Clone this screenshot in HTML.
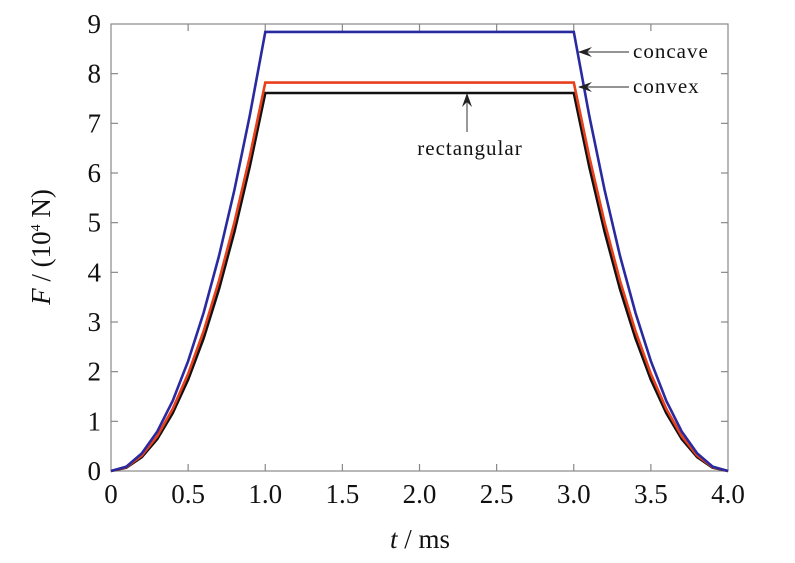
<!DOCTYPE html>
<html><head><style>
html,body{margin:0;padding:0;background:#fff;}
svg text{font-family:"Liberation Serif",serif;fill:#111;}
</style></head><body>
<svg id="s" width="795" height="558" viewBox="0 0 795 558" xmlns="http://www.w3.org/2000/svg">
<defs><marker id="ah" markerWidth="14" markerHeight="10" refX="13" refY="5" orient="auto" markerUnits="userSpaceOnUse"><path d="M0,0 L14,5 L0,10 L5,5 Z" fill="#222"/></marker></defs>
<rect x="111" y="24" width="617" height="447" fill="none" stroke="#888" stroke-width="1.2"/>
<g id="ticks" stroke="#888" stroke-width="1.2"></g>
<g id="curves" fill="none" stroke-width="2.6"></g>
<g font-size="27" text-anchor="end" id="yl"></g>
<g font-size="27" text-anchor="middle" id="xl"></g>
<text x="420" y="548" font-size="27" text-anchor="middle"><tspan font-style="italic">t</tspan> / ms</text>
<text transform="translate(50,247) rotate(-90)" font-size="27" text-anchor="middle"><tspan font-style="italic">F</tspan> / (10<tspan font-size="14" dy="-10">4</tspan><tspan dy="10"> N)</tspan></text>
<line x1="629" y1="52" x2="579" y2="52" stroke="#555" stroke-width="1.2" marker-end="url(#ah)"/>
<text x="633" y="58" font-size="21" letter-spacing="1">concave</text>
<line x1="629" y1="87" x2="579" y2="87" stroke="#555" stroke-width="1.2" marker-end="url(#ah)"/>
<text x="633" y="93" font-size="21" letter-spacing="1">convex</text>
<line x1="467" y1="132" x2="467" y2="94" stroke="#555" stroke-width="1.2" marker-end="url(#ah)"/>
<text x="470" y="155" font-size="21" text-anchor="middle" letter-spacing="1">rectangular</text>
</svg>
<script>
var X0=111,X1=728,Y0=471,Y1=24;
function px(t){return X0+(X1-X0)*t/4;} function py(f){return Y0-(Y0-Y1)*f/9;}
var tk=document.getElementById('ticks'),h='';
for(var i=1;i<8;i++){var x=px(i*0.5);h+='<line x1="'+x+'" y1="471" x2="'+x+'" y2="464"/><line x1="'+x+'" y1="24" x2="'+x+'" y2="31"/>';}
for(var j=1;j<9;j++){var y=py(j);h+='<line x1="111" y1="'+y+'" x2="118" y2="'+y+'"/><line x1="728" y1="'+y+'" x2="721" y2="'+y+'"/>';}
tk.innerHTML=h;
var yl='';for(j=0;j<=9;j++)yl+='<text x="101" y="'+(py(j)+9)+'">'+j+'</text>';
document.getElementById('yl').innerHTML=yl;
var xs=['0','0.5','1.0','1.5','2.0','2.5','3.0','3.5','4.0'],xl='';
for(i=0;i<9;i++)xl+='<text x="'+px(i*0.5)+'" y="503">'+xs[i]+'</text>';
document.getElementById('xl').innerHTML=xl;
function path(A,p){var d='';for(var k=0;k<=40;k++){var t=k*0.1,f;
 if(t<=1)f=A*Math.pow(t,p);else if(t<3)f=A;else f=A*Math.pow(4-t,p);
 d+=(k?'L':'M')+px(t).toFixed(1)+','+py(f).toFixed(1);}return d;}
document.getElementById('curves').innerHTML=
 '<path d="'+path(7.61,2.05)+'" stroke="#111"/>'+
 '<path d="'+path(7.82,2.0)+'" stroke="#e8401c"/>'+
 '<path d="'+path(8.84,2.0)+'" stroke="#2a2aa0"/>';
</script>
</body></html>
